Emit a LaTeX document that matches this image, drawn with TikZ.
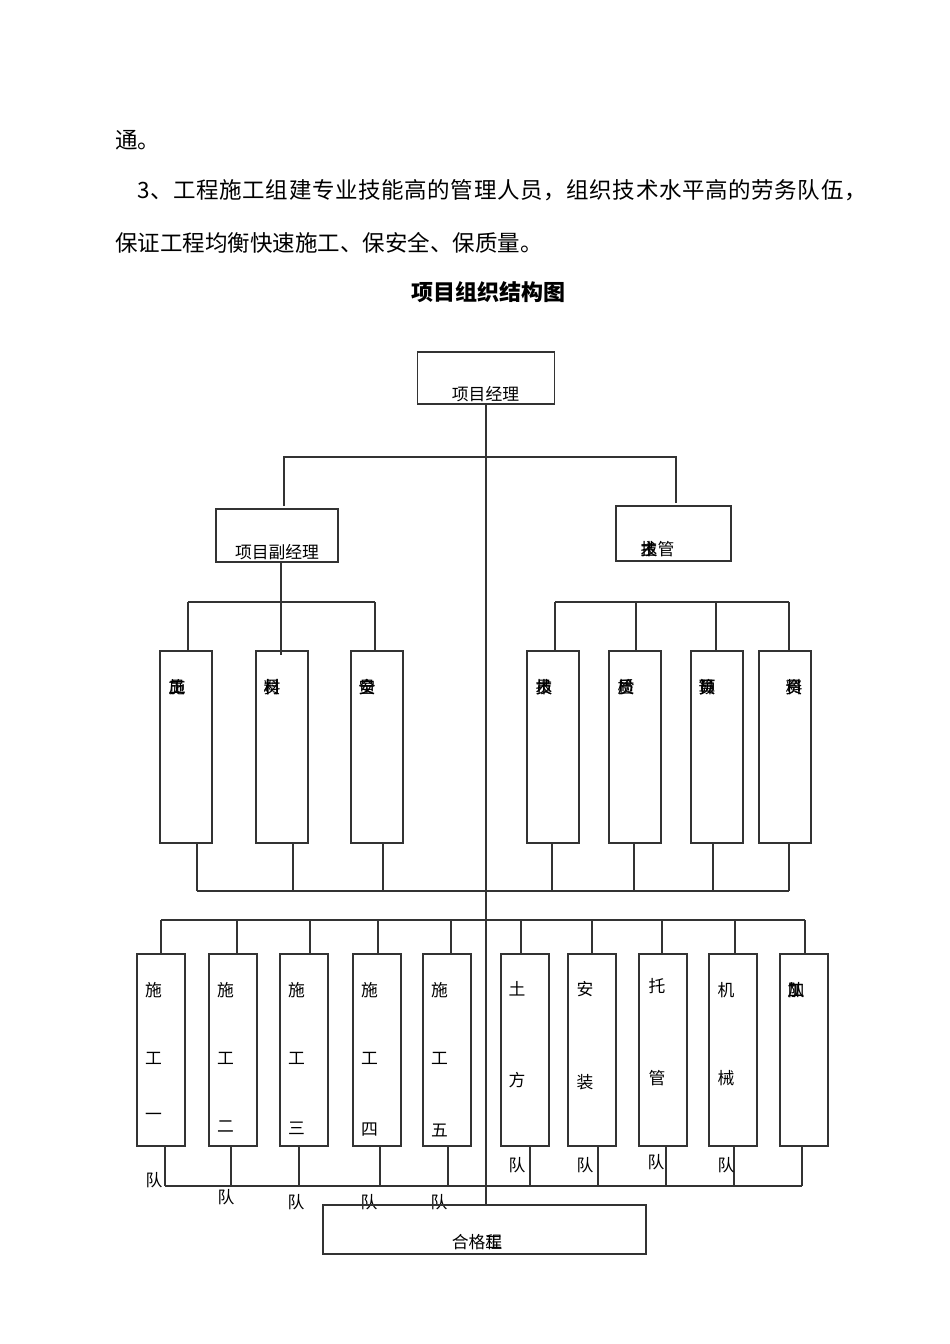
\documentclass[tikz,border=0pt]{standalone}
\usepackage{fontspec}
\setmainfont{Noto Sans CJK SC}
\usetikzlibrary{positioning, calc}
\newcommand{\Trio}[3]{\rlap{#1}\rlap{#2}#3}
\newcommand{\Duo}[2]{\rlap{#1}#2}
\tikzset{
    box/.style 2 args={draw=black!80, line width=1.2pt, anchor=north west,
      inner sep=0pt, outer sep=0pt, minimum width=#1pt, minimum height=#2pt},
    bar/.style={draw=black!80, line width=1.2pt},
    lbl/.style={inner sep=0pt, font=\fontsize{16.8}{20}\selectfont},
    para/.style={inner sep=0pt, anchor=west, font=\fontsize{22.5}{26}\selectfont},
}

\begin{document}
\begin{tikzpicture}[x=1pt, y=-1pt]
    \useasboundingbox (0,0) rectangle (950,1344);

    % text above the chart
    \node[para] (p1) at (115,140) {通。};
    \node[para] (p2) at (137,190) {\addfontfeature{LetterSpace=2.8}3、工程施工组建专业技能高的管理人员，组织技术水平高的劳务队伍，};
    \node[para] (p3) at (115,243) {保证工程均衡快速施工、保安全、保质量。};
    \node[inner sep=0pt, font=\fontsize{22}{26}\selectfont\bfseries] (title) at (488,292) {项目组织结构图};

    % managers
    \node[box={137}{52}] (pm) at (417.5,352) {};
    \node[lbl] (pm l) at (485.5,394) {项目经理};
    \node[box={122}{53}] (dep) at (216,509) {};
    \node[lbl] (dep l) at (277,552) {项目副经理};
    \node[box={115}{55}] (tech) at (616,506) {};
    \node[lbl] (tech l) at (657.5,549) {\Trio{技}{术}{主}管};

    \coordinate (ha) at (284,457);
    \coordinate (hb) at (676,457);
    \draw[bar, shorten <=3pt, shorten >=3pt] (dep.north -| ha) -- (ha) -- (hb) -- (hb |- tech.north);

    % staff
    \foreach \n/\x/\tx/\bx/\lx/\t in {
        b1/160/188/197/177/{\Trio{施}{工}{员}},
        b2/256/281/293/272/{\Trio{材}{料}{员}},
        b3/351/375/383/367/{\Trio{安}{全}{员}},
        b4/527/555/552/544/{\Trio{技}{术}{员}},
        b5/609/636/634/626/{\Trio{质}{检}{员}},
        b6/691/716/713/707/{\Trio{预}{算}{员}},
        b7/759/789/789/794/{\Trio{资}{料}{员}}} {
      \node[box={52}{192}] (\n) at (\x,651) {};
      \node[lbl] (\n l) at (\lx,687) {\t};
      \coordinate (\n u) at (\tx,602);
      \coordinate (\n d) at (\bx,891);
      \draw[bar] (\n d |- \n.south) -- (\n d);
    }
    \foreach \n in {b1,b3,b4,b5,b6,b7}
      \draw[bar] (\n u) -- (\n u |- \n.north);
    \draw[bar] (b1u) -- (b3u);
    \draw[bar] (b4u) -- (b7u);
    \draw[bar] (b1d) -- (b7d);
    \draw[bar] (b2u |- dep.south) -- ($(b2u |- b2.north)+(0,4)$);

    % teams
    \foreach \n/\x/\tx/\bx in {t1/137/161/165, t2/209/237/231, t3/280/310/299,
        t4/353/378/380, t5/423/451/448, t6/501/521/530, t7/568/592/598,
        t8/639/662/666, t9/709/735/734, t10/780/805/802} {
      \node[box={48}{192}] (\n) at (\x,954) {};
      \coordinate (\n u) at (\tx,920);
      \coordinate (\n d) at (\bx,1186);
      \draw[bar] (\n u) -- (\n u |- \n.north);
      \draw[bar] (\n d |- \n.south) -- (\n d);
    }
    \draw[bar] (t1u) -- (t10u);
    \draw[bar] (t1d) -- (t10d);

    \foreach \n/\c/\cy in {t1/一/1117, t2/二/1127, t3/三/1128, t4/四/1130, t5/五/1130} {
      \node[lbl] (\n a) at ($(\n.north west)+(16.5,36)$) {施};
      \node[lbl] (\n b) at ($(\n.north west)+(16.5,104)$) {工};
      \node[lbl] (\n c) at (\n a |- 0,\cy) {\c};
    }
    \foreach \n/\a/\b/\ay/\by/\dx in {t6/土/方/989/1080/16, t7/安/装/989/1082/17,
        t8/托/管/986/1078/18, t9/机/械/990/1078/17} {
      \node[lbl] (\n a) at ($(\n.north west)+(\dx,\ay-954)$) {\a};
      \node[lbl] (\n b) at ($(\n.north west)+(\dx,\by-954)$) {\b};
    }
    \node[lbl] (t10a) at (796,990) {\Trio{加}{工}{队}};

    \foreach \n/\x/\y in {q1/154/1180, q2/226/1197, q3/296/1202, q4/369/1202,
        q5/439/1202, q6/517/1165, q7/585/1165, q8/656/1162, q9/726/1165}
      \node[lbl] (\n) at (\x,\y) {队};

    % result
    \node[box={323}{49}] (qc) at (323,1205) {};
    \node[lbl] (qc l) at (477,1242) {合格\Duo{工}{程}};

    \draw[bar] (pm.south) -- (pm.south |- qc.north);
\end{tikzpicture}
\end{document}
